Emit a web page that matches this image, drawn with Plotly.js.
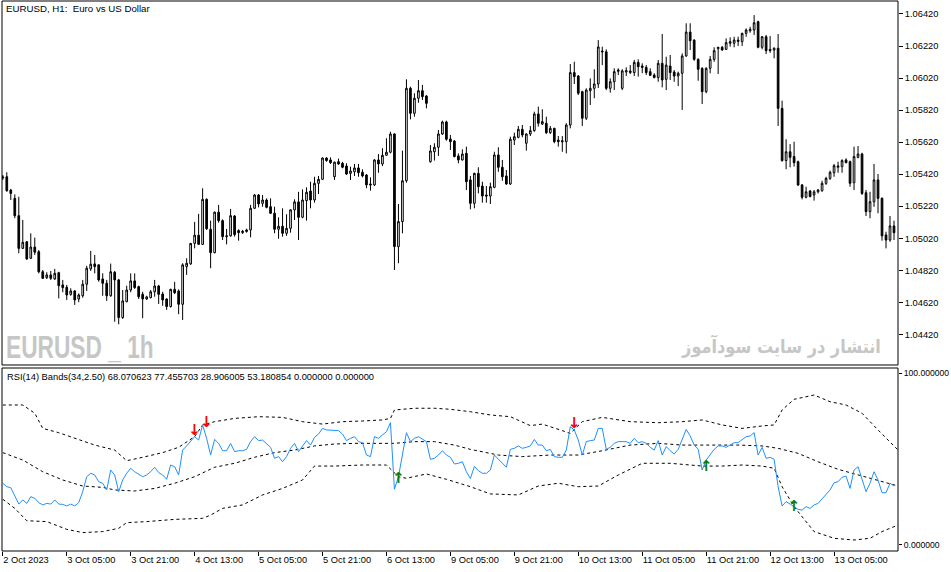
<!DOCTYPE html>
<html><head><meta charset="utf-8">
<script src="https://cdn.plot.ly/plotly-3.0.1.min.js"></script>
<style>html,body{margin:0;padding:0;background:#fff}#chart{width:951px;height:572px}</style>
</head><body><div id="chart"></div>
<script>
const openP = [1.05396,1.05404,1.05321,1.05269,1.05161,1.04957,1.04998,1.04895,1.04965,1.04936,
1.04811,1.04774,1.04791,1.04766,1.04805,1.04729,1.04714,1.04670,1.04691,1.04641,
1.04661,1.04733,1.04829,1.04860,1.04854,1.04766,1.04739,1.04661,1.04808,1.04760,
1.04525,1.04624,1.04697,1.04754,1.04718,1.04670,1.04641,1.04649,1.04686,1.04722,
1.04672,1.04641,1.04594,1.04701,1.04691,1.04608,1.04843,1.04860,1.04988,1.05039,
1.04982,1.05263,1.05076,1.04930,1.05183,1.05130,1.05030,1.05035,1.05159,1.05068,
1.05055,1.05062,1.05072,1.05207,1.05290,1.05238,1.05259,1.05217,1.05176,1.05076,
1.05095,1.05051,1.05082,1.05197,1.05247,1.05151,1.05255,1.05315,1.05259,1.05363,
1.05388,1.05521,1.05509,1.05404,1.05498,1.05488,1.05471,1.05425,1.05435,1.05459,
1.05432,1.05415,1.05359,1.05353,1.05509,1.05484,1.05538,1.05557,1.05671,1.04968,
1.05124,1.05379,1.05956,1.05800,1.05894,1.05941,1.05908,1.05498,1.05560,1.05588,
1.05671,1.05746,1.05640,1.05627,1.05534,1.05509,1.05550,1.05384,1.05238,1.05425,
1.05346,1.05290,1.05284,1.05338,1.05540,1.05463,1.05409,1.05359,1.05633,1.05650,
1.05700,1.05613,1.05671,1.05692,1.05796,1.05733,1.05738,1.05679,1.05706,1.05633,
1.05629,1.05623,1.05727,1.06054,1.06033,1.05935,1.05769,1.05941,1.05956,1.05983,
1.06189,1.06184,1.05956,1.05997,1.06062,1.05956,1.06058,1.06054,1.06054,1.06118,
1.06095,1.06087,1.06060,1.06039,1.06023,1.06112,1.06012,1.06095,1.06058,1.06033,
1.06050,1.06158,1.06307,1.06257,1.06137,1.06081,1.05935,1.06081,1.06137,1.06203,
1.06212,1.06199,1.06237,1.06237,1.06257,1.06247,1.06299,1.06315,1.06320,1.06372,
1.06212,1.06278,1.06199,1.06195,1.06206,1.05831,1.05505,1.05560,1.05530,1.05498,
1.05353,1.05276,1.05315,1.05290,1.05310,1.05317,1.05363,1.05394,1.05429,1.05463,
1.05467,1.05509,1.05498,1.05367,1.05525,1.05546,1.05304,1.05186,1.05248,1.05384,
1.05269,1.05041,1.05009,1.05097];
const highP = [1.05415,1.05432,1.05328,1.05294,1.05279,1.05134,1.05003,1.05051,1.05024,1.04947,
1.04822,1.04808,1.04816,1.04829,1.04811,1.04760,1.04729,1.04708,1.04697,1.04676,
1.04760,1.04848,1.04941,1.04916,1.04856,1.04801,1.04760,1.04862,1.04816,1.04766,
1.04697,1.04724,1.04801,1.04801,1.04724,1.04686,1.04661,1.04697,1.04760,1.04729,
1.04686,1.04645,1.04705,1.04748,1.04701,1.04864,1.04895,1.04990,1.05122,1.05172,
1.05332,1.05269,1.05130,1.05186,1.05228,1.05138,1.05078,1.05203,1.05165,1.05076,
1.05072,1.05080,1.05228,1.05296,1.05296,1.05290,1.05269,1.05269,1.05217,1.05151,
1.05207,1.05170,1.05201,1.05263,1.05310,1.05325,1.05338,1.05373,1.05404,1.05409,
1.05525,1.05525,1.05525,1.05498,1.05517,1.05497,1.05488,1.05467,1.05484,1.05484,
1.05450,1.05421,1.05400,1.05513,1.05546,1.05582,1.05644,1.05685,1.05675,1.05234,
1.05567,1.06012,1.05966,1.05925,1.06008,1.05977,1.05914,1.05602,1.05613,1.05696,
1.05754,1.05754,1.05665,1.05633,1.05550,1.05575,1.05592,1.05409,1.05429,1.05463,
1.05373,1.05346,1.05367,1.05560,1.05588,1.05509,1.05446,1.05654,1.05679,1.05721,
1.05727,1.05675,1.05721,1.05810,1.05842,1.05825,1.05779,1.05721,1.05710,1.05658,
1.05658,1.05738,1.06108,1.06122,1.06039,1.05941,1.05956,1.06018,1.06075,1.06257,
1.06216,1.06199,1.06018,1.06081,1.06081,1.06075,1.06087,1.06101,1.06133,1.06137,
1.06112,1.06101,1.06081,1.06050,1.06133,1.06295,1.06153,1.06164,1.06070,1.06060,
1.06174,1.06362,1.06362,1.06262,1.06143,1.06087,1.06087,1.06158,1.06212,1.06215,
1.06220,1.06268,1.06274,1.06278,1.06278,1.06303,1.06330,1.06340,1.06413,1.06378,
1.06282,1.06289,1.06282,1.06212,1.06295,1.05879,1.05638,1.05608,1.05623,1.05505,
1.05359,1.05342,1.05321,1.05321,1.05328,1.05379,1.05404,1.05442,1.05484,1.05498,
1.05513,1.05519,1.05505,1.05592,1.05596,1.05554,1.05321,1.05310,1.05484,1.05421,
1.05276,1.05061,1.05159,1.05130];
const lowP = [1.05384,1.05310,1.05259,1.05145,1.04926,1.04953,1.04885,1.04891,1.04916,1.04801,
1.04766,1.04766,1.04760,1.04760,1.04645,1.04683,1.04635,1.04661,1.04604,1.04621,
1.04649,1.04691,1.04816,1.04801,1.04749,1.04661,1.04629,1.04655,1.04499,1.04483,
1.04517,1.04621,1.04683,1.04704,1.04641,1.04521,1.04635,1.04645,1.04655,1.04610,
1.04598,1.04573,1.04587,1.04672,1.04546,1.04510,1.04791,1.04854,1.04957,1.04978,
1.04978,1.05072,1.04833,1.04926,1.05117,1.05009,1.04982,1.05030,1.05030,1.05005,
1.05047,1.05055,1.05026,1.05203,1.05213,1.05217,1.05207,1.05172,1.05051,1.05017,
1.05030,1.05035,1.05055,1.05134,1.05009,1.05145,1.05130,1.05207,1.05242,1.05296,
1.05384,1.05498,1.05484,1.05384,1.05478,1.05457,1.05415,1.05384,1.05409,1.05404,
1.05400,1.05332,1.05317,1.05346,1.05429,1.05471,1.05534,1.05550,1.04822,1.04864,
1.05051,1.05367,1.05762,1.05779,1.05866,1.05883,1.05831,1.05492,1.05505,1.05534,
1.05665,1.05629,1.05571,1.05525,1.05488,1.05505,1.05321,1.05201,1.05207,1.05300,
1.05242,1.05242,1.05234,1.05332,1.05435,1.05379,1.05353,1.05353,1.05602,1.05644,
1.05650,1.05567,1.05658,1.05685,1.05717,1.05727,1.05671,1.05671,1.05613,1.05592,
1.05560,1.05550,1.05706,1.05983,1.05914,1.05721,1.05758,1.05852,1.05894,1.05958,
1.06101,1.05945,1.05929,1.05945,1.06039,1.05945,1.06033,1.06045,1.06033,1.06029,
1.06050,1.06039,1.06033,1.06018,1.05997,1.05962,1.05945,1.06008,1.05997,1.05970,
1.05821,1.06153,1.06195,1.06128,1.06003,1.05858,1.05925,1.06050,1.06122,1.06045,
1.06191,1.06195,1.06216,1.06212,1.06220,1.06220,1.06278,1.06303,1.06289,1.06206,
1.06199,1.06170,1.06178,1.06143,1.05721,1.05498,1.05451,1.05463,1.05467,1.05346,
1.05263,1.05269,1.05276,1.05255,1.05300,1.05310,1.05353,1.05384,1.05404,1.05429,
1.05429,1.05488,1.05342,1.05321,1.05519,1.05290,1.05159,1.05145,1.05217,1.05176,
1.05005,1.04957,1.04998,1.05009];
const closeP = [1.05402,1.05317,1.05300,1.05161,1.04957,1.04995,1.04891,1.04965,1.04933,1.04811,
1.04770,1.04791,1.04770,1.04801,1.04724,1.04712,1.04666,1.04691,1.04635,1.04666,
1.04733,1.04833,1.04858,1.04843,1.04760,1.04739,1.04661,1.04811,1.04760,1.04525,
1.04629,1.04697,1.04754,1.04712,1.04655,1.04641,1.04654,1.04686,1.04722,1.04670,
1.04635,1.04594,1.04701,1.04680,1.04608,1.04854,1.04864,1.04988,1.05039,1.04982,
1.05263,1.05080,1.04930,1.05183,1.05130,1.05030,1.05035,1.05161,1.05043,1.05055,
1.05064,1.05072,1.05207,1.05290,1.05234,1.05259,1.05213,1.05176,1.05076,1.05095,
1.05051,1.05082,1.05197,1.05247,1.05151,1.05259,1.05307,1.05259,1.05363,1.05388,
1.05521,1.05505,1.05492,1.05495,1.05484,1.05463,1.05421,1.05440,1.05459,1.05429,
1.05409,1.05353,1.05353,1.05509,1.05484,1.05538,1.05557,1.05671,1.04968,1.05124,
1.05379,1.05956,1.05800,1.05894,1.05941,1.05904,1.05862,1.05565,1.05588,1.05671,
1.05746,1.05638,1.05623,1.05530,1.05509,1.05546,1.05373,1.05238,1.05425,1.05342,
1.05284,1.05284,1.05342,1.05540,1.05463,1.05404,1.05359,1.05638,1.05654,1.05700,
1.05665,1.05671,1.05692,1.05796,1.05738,1.05748,1.05679,1.05706,1.05623,1.05623,
1.05623,1.05727,1.06054,1.06029,1.05925,1.05769,1.05945,1.05956,1.05983,1.06214,
1.06184,1.05956,1.05997,1.06060,1.06070,1.06065,1.06066,1.06064,1.06118,1.06091,
1.06087,1.06054,1.06037,1.06023,1.06112,1.06008,1.06101,1.06054,1.06033,1.06050,
1.06158,1.06307,1.06253,1.06137,1.06075,1.05935,1.06081,1.06137,1.06191,1.06212,
1.06195,1.06241,1.06247,1.06257,1.06249,1.06299,1.06320,1.06324,1.06365,1.06212,
1.06278,1.06191,1.06191,1.06206,1.05831,1.05505,1.05560,1.05525,1.05492,1.05353,
1.05276,1.05310,1.05280,1.05310,1.05321,1.05363,1.05394,1.05432,1.05473,1.05471,
1.05505,1.05492,1.05363,1.05530,1.05546,1.05300,1.05186,1.05248,1.05384,1.05269,
1.05035,1.05009,1.05097,1.05055];

const rsiValues = [35.9,33.9,33.3,28.1,23.8,26.2,24.2,28.1,27.1,24.6,
23.3,24.2,23.8,26.2,23.8,23.6,22.7,23.8,22.7,24.6,
31.0,39.7,41.7,40.7,36.8,35.9,32.0,43.6,40.7,31.0,
37.8,41.7,44.6,42.6,41.3,39.7,40.7,42.6,45.2,42.1,
40.7,38.2,46.5,45.5,40.7,55.2,57.6,60.1,63.0,61.0,
69.8,62.0,52.3,61.4,59.1,54.8,54.8,59.1,54.3,54.8,
54.8,55.6,60.1,63.0,60.7,61.0,59.1,56.8,50.4,51.4,
48.4,51.4,56.2,59.1,54.3,57.2,60.7,58.1,62.6,64.5,
67.8,66.9,66.9,66.9,66.5,64.5,60.7,62.0,63.0,60.1,
59.5,52.3,51.4,63.0,62.0,64.0,65.9,71.1,32.4,39.7,
53.3,65.3,60.1,62.0,63.0,61.4,60.1,49.8,50.4,52.3,
54.8,52.3,51.0,47.1,47.5,48.4,42.6,38.6,45.7,43.2,
41.7,41.7,43.6,52.3,49.8,47.5,45.2,55.6,56.2,57.6,
56.2,56.8,57.6,61.4,58.1,58.1,54.8,55.6,51.4,51.0,
51.0,55.2,68.8,66.9,61.0,52.3,60.1,60.7,61.0,67.8,
67.8,55.6,56.8,59.1,60.1,60.1,60.1,59.1,62.0,59.5,
60.1,59.1,56.8,55.2,60.7,52.3,57.2,54.8,52.9,55.6,
61.0,67.2,63.4,58.1,55.6,43.6,49.4,52.3,55.6,57.6,
57.6,56.8,58.1,59.5,59.5,61.0,63.0,63.4,65.3,52.3,
56.8,50.4,51.0,49.8,33.9,22.7,25.2,23.8,22.3,20.7,
20.3,22.3,21.3,23.3,24.2,26.6,29.1,32.0,36.2,36.8,
39.3,40.1,32.9,43.6,45.5,37.8,31.0,35.9,42.6,37.8,
30.4,30.4,35.9,34.3];

const upperIdx = [0,5,8,10,14,18,23,28,31,35,40,44,48,50,53,58,64,70,75,80,85,90,95,97,98,103,108,112,117,122,127,132,135,140,142,145,150,157,164,170,175,180,185,190,193,195,198,203,207,211,215,219,224];
const upperVal = [81.4,81.4,76.6,67.8,65.3,62.0,58.1,55.2,49.0,51.0,53.7,56.8,63.0,69.8,71.7,73.6,74.6,74.2,71.7,70.3,71.7,72.1,72.7,73.6,78.5,79.5,79.5,78.9,77.5,75.6,74.6,69.4,70.3,66.5,64.9,71.7,74.2,71.7,71.1,71.7,72.7,69.8,67.8,69.2,69.8,78.5,84.7,87.2,83.3,81.4,76.6,66.9,55.2];
const middleIdx = [0,5,10,15,20,25,28,33,38,43,48,53,58,63,68,73,78,83,88,93,98,103,108,113,117,124,130,137,144,150,157,164,170,177,184,190,194,199,204,209,214,219,224];
const middleVal = [53.7,49.4,42.6,37.8,34.3,33.5,32.0,31.4,32.9,35.9,39.7,45.2,47.5,51.0,53.7,55.2,57.6,58.7,59.1,59.1,59.1,60.1,60.1,58.1,55.6,52.3,51.4,52.3,52.3,54.8,58.1,59.1,58.1,58.1,58.1,57.6,56.2,53.3,48.4,44.0,40.7,37.4,34.3];
const lowerIdx = [0,3,6,11,16,20,25,29,31,36,43,50,52,55,60,65,70,75,78,83,90,96,99,101,106,111,117,122,129,134,139,144,149,154,160,167,175,180,185,190,193,195,198,203,208,213,217,220,224];
const lowerVal = [26.6,21.3,14.1,13.6,9.1,7.2,7.8,9.7,13.0,13.6,14.9,15.5,17.4,21.3,23.3,29.1,32.9,37.8,45.9,45.9,46.5,46.5,39.7,38.8,41.3,38.2,33.9,29.7,29.1,34.3,35.9,33.9,34.3,40.7,47.5,47.5,45.9,45.9,46.5,45.9,44.6,33.9,22.3,7.8,3.9,2.9,3.9,7.8,11.6];

const sellIdx = [48, 51, 143];
const sellLevel = [66.3, 70.6, 70.3];
const buyIdx = [99, 176, 198];
const buyLevel = [38.5, 45.1, 21.8];

const tickIdx = [0,16,32,48,64,80,96,112,128,144,160,176,192,208];
const tickLabels = ['2 Oct 2023','3 Oct 05:00','3 Oct 21:00','4 Oct 13:00','5 Oct 05:00','5 Oct 21:00','6 Oct 13:00','9 Oct 05:00','9 Oct 21:00','10 Oct 13:00','11 Oct 05:00','11 Oct 21:00','12 Oct 13:00','13 Oct 05:00'];
const priceTicks = [1.0442,1.0462,1.0482,1.0502,1.0522,1.0542,1.0562,1.0582,1.0602,1.0622,1.0642];
const rsiTicks = [0, 100];
const rsiTickLabels = ['0.000000', '100.000000'];

const barIdx = openP.map((_, i) => i);
const tickFont = {family: 'Liberation Sans, Arial, sans-serif', size: 9.3, color: '#000'};
const dotted = {color: '#000', width: 1, dash: '3px,3px'};

const traces = [
  {type: 'candlestick', x: barIdx, open: openP, high: highP, low: lowP, close: closeP,
   xaxis: 'x', yaxis: 'y', hoverinfo: 'skip', whiskerwidth: 0,
   increasing: {line: {color: '#000', width: 1}, fillcolor: '#ffffff'},
   decreasing: {line: {color: '#000', width: 1}, fillcolor: '#000000'}},
  {type: 'scatter', mode: 'lines', x: upperIdx, y: upperVal, xaxis: 'x', yaxis: 'y2', line: dotted, hoverinfo: 'skip'},
  {type: 'scatter', mode: 'lines', x: middleIdx, y: middleVal, xaxis: 'x', yaxis: 'y2', line: dotted, hoverinfo: 'skip'},
  {type: 'scatter', mode: 'lines', x: lowerIdx, y: lowerVal, xaxis: 'x', yaxis: 'y2', line: dotted, hoverinfo: 'skip'},
  {type: 'scatter', mode: 'lines', x: barIdx, y: rsiValues, xaxis: 'x', yaxis: 'y2', line: {color: '#1e90ff', width: 1}, hoverinfo: 'skip'},
  {type: 'scatter', mode: 'text', x: sellIdx, y: sellLevel, text: sellIdx.map(() => '↓'), xaxis: 'x', yaxis: 'y2',
   textposition: 'middle center', textfont: {family: 'DejaVu Sans', size: 15, color: '#ff0000', weight: 'bold'}, hoverinfo: 'skip'},
  {type: 'scatter', mode: 'text', x: buyIdx, y: buyLevel, text: buyIdx.map(() => '↑'), xaxis: 'x', yaxis: 'y2',
   textposition: 'middle center', textfont: {family: 'DejaVu Sans', size: 15, color: '#0b7d0b', weight: 'bold'}, hoverinfo: 'skip'}
];

const layout = {
  width: 951, height: 572,
  margin: {l: 2, r: 53, t: 1, b: 21, pad: 0},
  paper_bgcolor: '#ffffff', plot_bgcolor: '#ffffff',
  showlegend: false, hovermode: false, boxgap: 0.4,
  font: {family: 'Liberation Sans, Arial, sans-serif', color: '#000'},
  xaxis: {range: [-0.2, 224], anchor: 'y2', tickmode: 'array', tickvals: tickIdx, ticktext: tickLabels,
          ticks: 'outside', ticklen: 4, tickcolor: '#000', ticklabelposition: 'outside right',
          showgrid: false, zeroline: false, showline: false, rangeslider: {visible: false},
          tickfont: tickFont, fixedrange: true},
  yaxis: {domain: [0.3382, 1], range: [1.04229, 1.06501], side: 'right', anchor: 'x',
          tickmode: 'array', tickvals: priceTicks, tickformat: '.5f', ticks: 'outside', ticklen: 4, tickcolor: '#000',
          showgrid: false, zeroline: false, showline: false, tickfont: tickFont, fixedrange: true},
  yaxis2: {domain: [0, 0.3327], range: [-3.49, 102.9], side: 'right', anchor: 'x',
           tickmode: 'array', tickvals: rsiTicks, ticktext: rsiTickLabels, ticks: 'outside', ticklen: 3, tickcolor: '#000',
           showgrid: false, zeroline: false, showline: false,
           tickfont: {family: 'Liberation Sans, Arial, sans-serif', size: 8.6, color: '#000'}, fixedrange: true},
  shapes: [
    {type: 'rect', xref: 'paper', yref: 'paper', x0: 0, x1: 1, y0: 0.3382, y1: 1, line: {color: '#000', width: 1}},
    {type: 'rect', xref: 'paper', yref: 'paper', x0: 0, x1: 1, y0: 0, y1: 0.3327, line: {color: '#000', width: 1}}
  ],
  annotations: [
    {xref: 'paper', yref: 'paper', x: 0.0022, y: 0.9855, xanchor: 'left', yanchor: 'middle', showarrow: false,
     text: 'EURUSD, H1:\u00a0 Euro vs US Dollar', font: {family: 'Liberation Sans, Arial, sans-serif', size: 9.7, color: '#000'}},
    {xref: 'paper', yref: 'paper', x: 0.0033, y: 0.3164, xanchor: 'left', yanchor: 'middle', showarrow: false,
     text: 'RSI(14) Bands(34,2.50) 68.070623 77.455703 28.906005 53.180854 0.000000 0.000000',
     font: {family: 'Liberation Sans, Arial, sans-serif', size: 9.3, color: '#000'}},
    {xref: 'paper', yref: 'paper', x: 0.0022, y: 0.3718, xanchor: 'left', yanchor: 'middle', showarrow: false,
     text: 'EURUSD _ 1h', font: {family: 'Liberation Sans, Arial, sans-serif', size: 32, color: '#c6c6c6', weight: 'bold'}},
    {xref: 'paper', yref: 'paper', x: 0.9833, y: 0.3727, xanchor: 'right', yanchor: 'middle', showarrow: false,
     text: 'انتشار در سایت سودآموز', font: {family: 'DejaVu Sans, sans-serif', size: 19, color: '#c6c6c6', weight: 'bold'}}
  ]
};

function squeeze(g, s, fromRight) {
  if (!g) return;
  const t = g.querySelector('text');
  if (!t) return;
  const bb = t.getBBox();
  const ax = fromRight ? bb.x + bb.width : bb.x;
  const prev = t.getAttribute('transform') || '';
  t.setAttribute('transform', prev + ' translate(' + ax + ',0) scale(' + s + ',1) translate(' + (-ax) + ',0)');
}

Plotly.newPlot('chart', traces, layout, {staticPlot: true, displayModeBar: false}).then(function (gd) {
  const anns = gd.querySelectorAll('.annotation');
  squeeze(anns[2], 0.71, false);
  squeeze(anns[3], 0.85, true);
});
</script>
</body></html>
